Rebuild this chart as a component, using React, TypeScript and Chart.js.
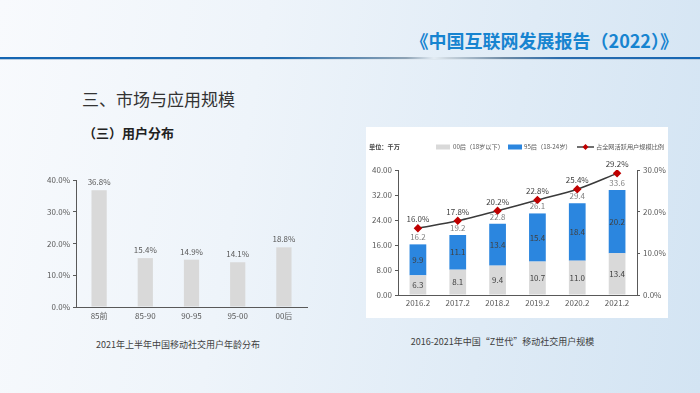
import React, { useEffect, useRef } from "react";
import { Chart, registerables } from "chart.js";

Chart.register(...registerables);

// ---- data ----
const ageCategories = ["85前", "85-90", "90-95", "95-00", "00后"];
const ageShare = [36.8, 15.4, 14.9, 14.1, 18.8];

const years = ["2016.2", "2017.2", "2018.2", "2019.2", "2020.2", "2021.2"];
const gen00Users = [6.3, 8.1, 9.4, 10.7, 11.0, 13.4];
const gen95Users = [9.9, 11.1, 13.4, 15.4, 18.4, 20.2];
const totalUsers = [16.2, 19.2, 22.8, 26.1, 29.4, 33.6];
const shareOfActive = [16.0, 17.8, 20.2, 22.8, 25.4, 29.2];

const seriesLabels = ["00后（18岁以下）", "95后（18-24岁）", "占全网活跃用户规模比例"];
const unitLabel = "单位：千万";

const FONT = "'Noto Sans CJK SC', 'Noto Sans', sans-serif";
const AXIS_COLOR = "#595959";

function LeftChart() {
  const ref = useRef<HTMLCanvasElement | null>(null);
  useEffect(() => {
    const labelPlugin = {
      id: "ageLabels",
      afterDatasetsDraw(chart: any) {
        const ctx = chart.ctx;
        const meta = chart.getDatasetMeta(0);
        ctx.save();
        ctx.font = `8px ${FONT}`;
        ctx.fillStyle = "#595959";
        ctx.textAlign = "center";
        ctx.textBaseline = "middle";
        meta.data.forEach((el: any, i: number) => {
          ctx.fillText(ageShare[i].toFixed(1) + "%", el.x, el.y - 8);
        });
        ctx.restore();
      },
    };
    const chart = new Chart(ref.current as HTMLCanvasElement, {
      type: "bar",
      data: {
        labels: ageCategories,
        datasets: [
          {
            data: ageShare,
            backgroundColor: "#d9d9d9",
            barPercentage: 0.33,
            categoryPercentage: 1,
          },
        ],
      },
      options: {
        responsive: false,
        animation: false,
        layout: { padding: { top: 15, right: 13, left: 0, bottom: 0 } },
        plugins: { legend: { display: false }, tooltip: { enabled: false } },
        scales: {
          x: {
            grid: { display: false, drawTicks: false, tickLength: 0 },
            border: { display: true, color: AXIS_COLOR, width: 1 },
            ticks: { color: AXIS_COLOR, font: { size: 8, family: FONT }, padding: 4 },
            afterFit: (s: any) => { s.height = 23; },
          },
          y: {
            min: 0,
            max: 40,
            ticks: {
              stepSize: 10,
              color: AXIS_COLOR,
              font: { size: 8, family: FONT },
              padding: 3,
              callback: (v: any) => Number(v).toFixed(1) + "%",
            },
            grid: { drawOnChartArea: false, drawTicks: true, tickLength: 3, color: AXIS_COLOR },
            border: { display: true, color: AXIS_COLOR, width: 1 },
            afterFit: (s: any) => { s.width = 46; },
          },
        },
      },
      plugins: [labelPlugin],
    } as any);
    return () => chart.destroy();
  }, []);
  return (
    <canvas
      ref={ref}
      width={290}
      height={165}
      style={{ position: "absolute", left: 30, top: 165, width: 290, height: 165 }}
    />
  );
}

function RightChart() {
  const ref = useRef<HTMLCanvasElement | null>(null);
  useEffect(() => {
    const labelPlugin = {
      id: "genLabels",
      afterDatasetsDraw(chart: any) {
        const ctx = chart.ctx;
        ctx.save();
        ctx.font = `8px ${FONT}`;
        ctx.textAlign = "center";
        ctx.textBaseline = "middle";
        const m0 = chart.getDatasetMeta(0);
        const m1 = chart.getDatasetMeta(1);
        const m2 = chart.getDatasetMeta(2);
        ctx.fillStyle = "#404040";
        m0.data.forEach((el: any, i: number) => {
          ctx.fillText(gen00Users[i].toFixed(1), el.x, (el.y + el.base) / 2);
        });
        m1.data.forEach((el: any, i: number) => {
          ctx.fillText(gen95Users[i].toFixed(1), el.x, (el.y + el.base) / 2);
        });
        ctx.fillStyle = "#7f7f7f";
        m1.data.forEach((el: any, i: number) => {
          ctx.fillText(totalUsers[i].toFixed(1), el.x, el.y - 7);
        });
        ctx.fillStyle = "#404040";
        m2.data.forEach((el: any, i: number) => {
          ctx.fillText(shareOfActive[i].toFixed(1) + "%", el.x, el.y - 9);
        });
        ctx.restore();
      },
      afterDraw(chart: any) {
        const ctx = chart.ctx;
        const y = 20;
        ctx.save();
        ctx.textBaseline = "middle";
        ctx.textAlign = "left";
        ctx.font = `bold 6.2px ${FONT}`;
        ctx.fillStyle = "#404040";
        ctx.fillText(unitLabel, 3, y);
        ctx.font = `6.2px ${FONT}`;
        ctx.fillStyle = "#d9d9d9";
        ctx.fillRect(70, y - 2.5, 14, 5);
        ctx.fillStyle = "#595959";
        ctx.fillText(chart.data.datasets[0].label, 87, y);
        ctx.fillStyle = "#2b86df";
        ctx.fillRect(142, y - 2.5, 14, 5);
        ctx.fillStyle = "#595959";
        ctx.fillText(chart.data.datasets[1].label, 158, y);
        ctx.strokeStyle = "#404040";
        ctx.lineWidth = 1.5;
        ctx.beginPath();
        ctx.moveTo(211, y);
        ctx.lineTo(228, y);
        ctx.stroke();
        ctx.fillStyle = "#c00000";
        ctx.beginPath();
        ctx.moveTo(219.5, y - 3);
        ctx.lineTo(222.5, y);
        ctx.lineTo(219.5, y + 3);
        ctx.lineTo(216.5, y);
        ctx.closePath();
        ctx.fill();
        ctx.fillStyle = "#595959";
        ctx.fillText(chart.data.datasets[2].label, 230, y);
        ctx.restore();
      },
    };
    const chart = new Chart(ref.current as HTMLCanvasElement, {
      type: "bar",
      data: {
        labels: years,
        datasets: [
          {
            type: "bar",
            label: seriesLabels[0],
            data: gen00Users,
            backgroundColor: "#d9d9d9",
            barPercentage: 0.42,
            categoryPercentage: 1,
            stack: "s",
            yAxisID: "y",
            order: 1,
          },
          {
            type: "bar",
            label: seriesLabels[1],
            data: gen95Users,
            backgroundColor: "#2b86df",
            barPercentage: 0.42,
            categoryPercentage: 1,
            stack: "s",
            yAxisID: "y",
            order: 1,
          },
          {
            type: "line",
            label: seriesLabels[2],
            data: shareOfActive,
            borderColor: "#3a3a3a",
            borderWidth: 1.5,
            tension: 0.3,
            pointStyle: "rectRot",
            pointRadius: 3.2,
            pointBackgroundColor: "#c00000",
            pointBorderColor: "#c00000",
            yAxisID: "y1",
            order: 0,
          },
        ],
      },
      options: {
        responsive: false,
        animation: false,
        layout: { padding: { top: 43, right: 0, left: 0, bottom: 0 } },
        plugins: { legend: { display: false }, tooltip: { enabled: false } },
        scales: {
          x: {
            stacked: true,
            grid: { display: false, drawTicks: false, tickLength: 0 },
            border: { display: true, color: AXIS_COLOR, width: 1 },
            ticks: { color: AXIS_COLOR, font: { size: 8, family: FONT }, padding: 3 },
            afterFit: (s: any) => { s.height = 23; },
          },
          y: {
            stacked: true,
            position: "left",
            min: 0,
            max: 40,
            ticks: {
              stepSize: 8,
              color: AXIS_COLOR,
              font: { size: 8, family: FONT },
              padding: 3,
              callback: (v: any) => Number(v).toFixed(2),
            },
            grid: { drawOnChartArea: false, drawTicks: true, tickLength: 3, color: AXIS_COLOR },
            border: { display: true, color: AXIS_COLOR, width: 1 },
            afterFit: (s: any) => { s.width = 32; },
          },
          y1: {
            position: "right",
            min: 0,
            max: 30,
            ticks: {
              stepSize: 10,
              color: AXIS_COLOR,
              font: { size: 8, family: FONT },
              padding: 3,
              callback: (v: any) => Number(v).toFixed(1) + "%",
            },
            grid: { drawOnChartArea: false, drawTicks: true, tickLength: 3, color: AXIS_COLOR },
            border: { display: true, color: AXIS_COLOR, width: 1 },
            afterFit: (s: any) => { s.width = 31; },
          },
        },
      },
      plugins: [labelPlugin],
    } as any);
    return () => chart.destroy();
  }, []);
  return (
    <canvas
      ref={ref}
      width={302}
      height={191}
      style={{ position: "absolute", left: 366, top: 127, width: 302, height: 191, background: "#ffffff" }}
    />
  );
}

export default function App() {
  return (
    <div
      style={{
        position: "fixed",
        left: 0,
        top: 0,
        width: 700,
        height: 393,
        overflow: "hidden",
        background: "linear-gradient(100deg, #f8fafd 0%, #eef4fa 35%, #dfebf6 70%, #d3e4f3 100%)",
        fontFamily: FONT,
      }}
    >
      <div
        style={{
          position: "absolute",
          right: 22,
          top: 27,
          fontSize: 18,
          fontWeight: 700,
          color: "#1784d0",
          lineHeight: "26px",
          whiteSpace: "nowrap",
        }}
      >
        《中国互联网发展报告（2022）》
      </div>
      <div
        style={{
          position: "absolute",
          left: 0,
          top: 57,
          width: 700,
          height: 2,
          background:
            "linear-gradient(to right, #1566b3 0%, #1f6aae 40%, #8da2b4 58%, #e3ecf4 62%, #c8d3dc 64%, #6d8aa5 72%, #2a6cae 80%, #1566b3 100%)",
        }}
      />
      <div
        style={{
          position: "absolute",
          left: 0,
          top: 59,
          width: 700,
          height: 1,
          background: "linear-gradient(to right, #b9cde0, #dfe8f0 60%, #b9cde0)",
        }}
      />
      <div
        style={{
          position: "absolute",
          left: 82,
          top: 88,
          fontSize: 17,
          color: "#333333",
          lineHeight: "22px",
          whiteSpace: "nowrap",
        }}
      >
        三、市场与应用规模
      </div>
      <div
        style={{
          position: "absolute",
          left: 83,
          top: 124,
          fontSize: 13,
          fontWeight: 700,
          color: "#222222",
          lineHeight: "18px",
          whiteSpace: "nowrap",
        }}
      >
        （三）用户分布
      </div>
      <LeftChart />
      <RightChart />
      <div
        style={{
          position: "absolute",
          left: 58,
          width: 240,
          top: 338,
          textAlign: "center",
          fontSize: 9,
          color: "#404040",
          lineHeight: "14px",
          whiteSpace: "nowrap",
        }}
      >
        2021年上半年中国移动社交用户年龄分布
      </div>
      <div
        style={{
          position: "absolute",
          left: 380,
          width: 245,
          top: 335,
          textAlign: "center",
          fontSize: 9,
          color: "#404040",
          lineHeight: "14px",
          whiteSpace: "nowrap",
        }}
      >
        2016-2021年中国“Z世代”移动社交用户规模
      </div>
    </div>
  );
}
